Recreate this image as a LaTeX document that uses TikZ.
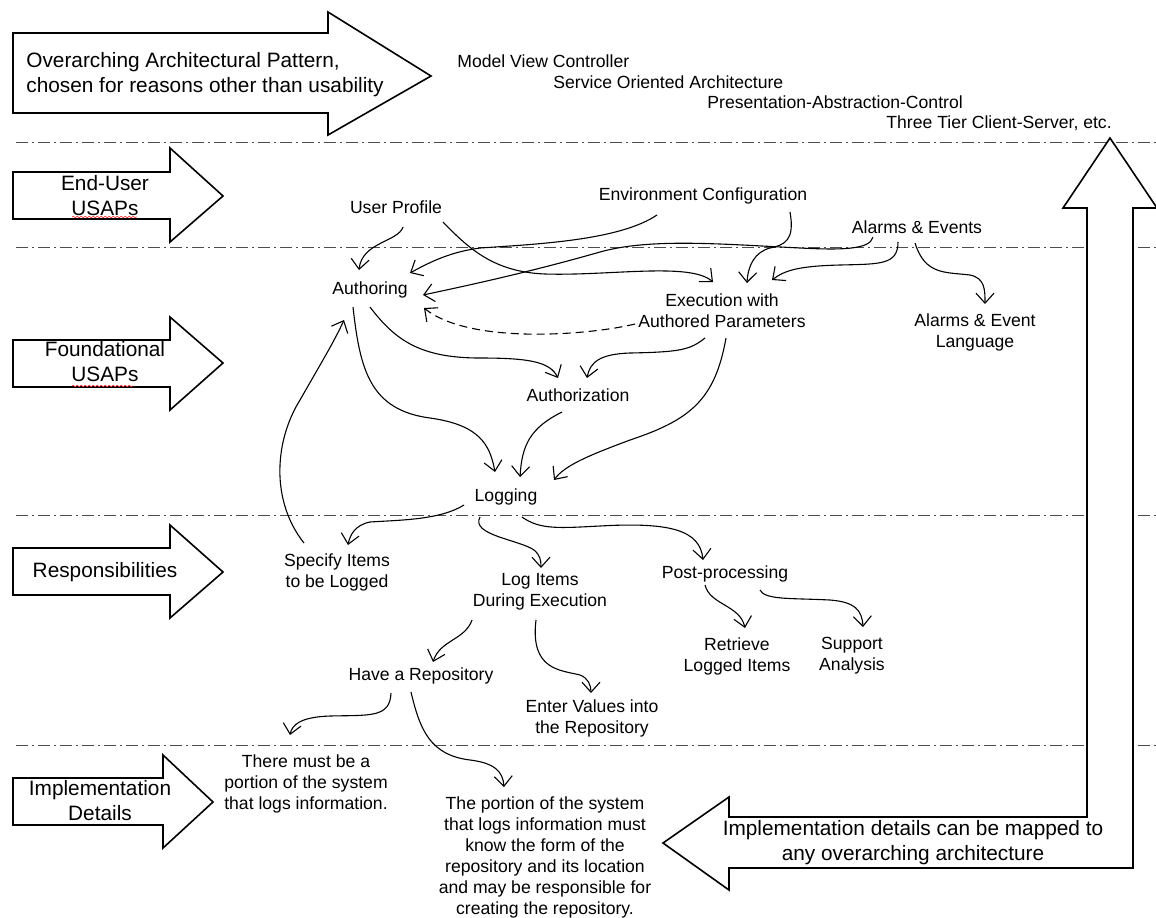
\documentclass[tikz,border=0pt]{standalone}
\usepackage{fontspec}
\setmainfont{Liberation Sans}
\usetikzlibrary{arrows.meta,decorations.pathmorphing}
\tikzset{>={Straight Barb[length=5pt,width=9pt]}}

\begin{document}
\begin{tikzpicture}[x=0.5pt,y=-0.5pt,
    lbl/.style={font=\fontsize{8.8}{10.5}\selectfont,align=center,inner sep=1pt},
    big/.style={font=\fontsize{10.4}{12.5}\selectfont,align=center,inner sep=1pt},
    bigarrow/.style={draw,line width=0.8pt,fill=white},
    conn/.style={->,line width=0.55pt},
    sep/.style={line width=0.5pt,black!70,dash pattern=on 6pt off 2pt on 1pt off 2pt},
    typo/.style={red!80,line width=0.3pt,decorate,decoration={snake,amplitude=0.4pt,segment length=2pt}}]
    \useasboundingbox (0,0) rectangle (1156,917);

    % layer separators
    \foreach \y in {142,247,515,745}
      \draw[sep] (16,\y) -- (1156,\y);

    % big arrows on the left
    \draw[bigarrow] (13,33) -- (328,33) -- (328,12) -- (431,76) -- (328,135) -- (328,113) -- (13,113) -- cycle;
    \draw[bigarrow] (13,172) -- (170,172) -- (170,148) -- (223,196) -- (170,242) -- (170,219) -- (13,219) -- cycle;
    \draw[bigarrow] (13,340) -- (170,340) -- (170,317) -- (223,363) -- (170,410) -- (170,387) -- (13,387) -- cycle;
    \draw[bigarrow] (13,548) -- (170,548) -- (170,525) -- (223,572) -- (170,618) -- (170,595) -- (13,595) -- cycle;
    \draw[bigarrow] (13,778) -- (163,778) -- (163,755) -- (213,802) -- (163,848) -- (163,825) -- (13,825) -- cycle;
    % mapping arrow on the right
    \draw[bigarrow] (1110,138) -- (1157,208) -- (1133,208) -- (1133,868) -- (729,868) -- (729,890) -- (663,843)
      -- (729,797) -- (729,817) -- (1087,817) -- (1087,208) -- (1063,208) -- cycle;

    \node[big,align=left,anchor=west] (pattern) at (24,75) {Overarching Architectural Pattern,\\chosen for reasons other than usability};
    \node[big] (enduser) at (105,196) {End-User\\USAPs};
    \node[big] (found) at (105,362) {Foundational\\USAPs};
    \node[big] (resp) at (105,572) {Responsibilities};
    \node[big] (impl) at (100,801) {Implementation\\Details};
    \node[big] (mapped) at (913,843) {Implementation details can be mapped to\\any overarching architecture};
    \draw[typo] (72,217) -- (137,217);
    \draw[typo] (72,386) -- (133,386);

    % architectures
    \node[lbl,anchor=west] (mvc) at (455,61) {Model View Controller};
    \node[lbl,anchor=west] (soa) at (551,82) {Service Oriented Architecture};
    \node[lbl,anchor=west] (pac) at (705,102) {Presentation-Abstraction-Control};
    \node[lbl,anchor=west] (ttcs) at (884,123) {Three Tier Client-Server, etc.};

    % usaps
    \node[lbl] (uprof) at (396,207) {User Profile};
    \node[lbl] (envcfg) at (703,196) {Environment Configuration};
    \node[lbl] (alarms) at (917,227) {Alarms \& Events};
    \node[lbl] (authoring) at (370,290) {Authoring};
    \node[lbl] (exec) at (722,311) {Execution with\\Authored Parameters};
    \node[lbl] (alang) at (975,332) {Alarms \& Event\\Language};
    \node[lbl] (authz) at (578,395) {Authorization};
    \node[lbl] (logging) at (506,497) {Logging};

    % responsibilities
    \node[lbl] (specify) at (337,572) {Specify Items\\to be Logged};
    \node[lbl] (logitems) at (540,592) {Log Items\\During Execution};
    \node[lbl] (post) at (725,574) {Post-processing};
    \node[lbl] (retrieve) at (737,656) {Retrieve\\Logged Items};
    \node[lbl] (support) at (852,656) {Support\\Analysis};
    \node[lbl] (haverep) at (421,676) {Have a Repository};
    \node[lbl] (enter) at (592,718) {Enter Values into\\the Repository};

    % implementation details
    \node[lbl] (mustbe) at (306,784) {There must be a\\portion of the system\\that logs information.};
    \node[lbl] (portion) at (545,857) {The portion of the system\\that logs information must\\know the form of the\\repository and its location\\and may be responsible for\\creating the repository.};

    % dependencies
    \draw[conn] ([shift={(7,20)}]uprof.center) .. controls (398,242) and (362,242) .. ([shift={(-11,-20)}]authoring.center);
    \draw[conn] ([shift={(47,15)}]uprof.center) .. controls (470,250) and (495,272) .. (545,274)
      .. controls (610,276) and (690,262) .. ([shift={(-9,-29)}]exec.center);
    \draw[conn] ([shift={(-46,19)}]envcfg.center) .. controls (620,240) and (540,244) .. (480,248)
      .. controls (450,252) and (430,262) .. ([shift={(40,-17)}]authoring.center);
    \draw[conn] ([shift={(87,16)}]envcfg.center) .. controls (795,240) and (785,245) .. (770,248)
      .. controls (755,252) and (748,265) .. ([shift={(25,-28)}]exec.center);
    \draw[conn] ([shift={(-44,10)}]alarms.center) .. controls (870,250) and (840,250) .. (800,248)
      .. controls (720,244) and (650,238) .. (600,252) .. controls (530,272) and (470,285) .. ([shift={(53,5)}]authoring.center);
    \draw[conn] ([shift={(-19,15)}]alarms.center) .. controls (898,265) and (880,264) .. (840,265)
      .. controls (800,266) and (785,270) .. ([shift={(50,-31)}]exec.center);
    \draw[conn] ([shift={(-2,16)}]alarms.center) .. controls (925,275) and (945,272) .. (970,275)
      .. controls (985,278) and (985,290) .. ([shift={(10,-28)}]alang.center);
    \draw[conn,dash pattern=on 4pt off 2.5pt] ([shift={(-87,13)}]exec.center) .. controls (590,335) and (470,345) .. ([shift={(54,18)}]authoring.center);
    \draw[conn] ([shift={(0,17)}]authoring.center) .. controls (395,340) and (420,358) .. (480,358)
      .. controls (530,358) and (550,362) .. ([shift={(-20,-17)}]authz.center);
    \draw[conn] ([shift={(-17,27)}]exec.center) .. controls (690,350) and (680,352) .. (630,353)
      .. controls (600,354) and (590,362) .. ([shift={(9,-17)}]authz.center);
    \draw[conn] ([shift={(-17,17)}]authoring.center) .. controls (360,370) and (370,410) .. (430,418)
      .. controls (480,425) and (490,445) .. ([shift={(-11,-25)}]logging.center);
    \draw[conn] ([shift={(-16,17)}]authz.center) .. controls (530,428) and (522,445) .. ([shift={(14,-20)}]logging.center);
    \draw[conn] ([shift={(4,27)}]exec.center) .. controls (715,400) and (690,420) .. (630,440)
      .. controls (590,455) and (565,465) .. ([shift={(48,-17)}]logging.center);
    \draw[conn] ([shift={(-33,-29)}]specify.center) .. controls (270,500) and (275,440) .. (300,400)
      .. controls (320,365) and (335,340) .. ([shift={(-26,30)}]authoring.center);

    \draw[conn] ([shift={(-42,8)}]logging.center) .. controls (440,520) and (400,520) .. (370,522)
      .. controls (355,525) and (350,535) .. ([shift={(11,-27)}]specify.center);
    \draw[conn] ([shift={(-26,20)}]logging.center) .. controls (470,535) and (520,540) .. (534,550)
      .. controls (540,555) and (541,560) .. ([shift={(1,-24)}]logitems.center);
    \draw[conn] ([shift={(16,20)}]logging.center) .. controls (540,530) and (560,528) .. (600,526)
      .. controls (670,522) and (700,530) .. ([shift={(-22,-14)}]post.center);
    \draw[conn] ([shift={(-20,11)}]post.center) .. controls (710,605) and (740,605) .. ([shift={(8,-28)}]retrieve.center);
    \draw[conn] ([shift={(35,16)}]post.center) .. controls (765,600) and (790,598) .. (830,600)
      .. controls (855,602) and (862,610) .. ([shift={(11,-29)}]support.center);
    \draw[conn] ([shift={(-68,28)}]logitems.center) .. controls (465,640) and (440,640) .. ([shift={(12,-14)}]haverep.center);
    \draw[conn] ([shift={(-4,28)}]logitems.center) .. controls (530,670) and (560,670) .. (580,675)
      .. controls (588,678) and (591,685) .. ([shift={(-1,-25)}]enter.center);
    \draw[conn] ([shift={(-30,17)}]haverep.center) .. controls (390,718) and (370,715) .. (330,716)
      .. controls (300,717) and (292,725) .. ([shift={(-16,-49)}]mustbe.center);
    \draw[conn] ([shift={(-10,16)}]haverep.center) .. controls (420,730) and (430,755) .. (470,760)
      .. controls (495,763) and (503,772) .. ([shift={(-41,-70)}]portion.center);
\end{tikzpicture}
\end{document}
